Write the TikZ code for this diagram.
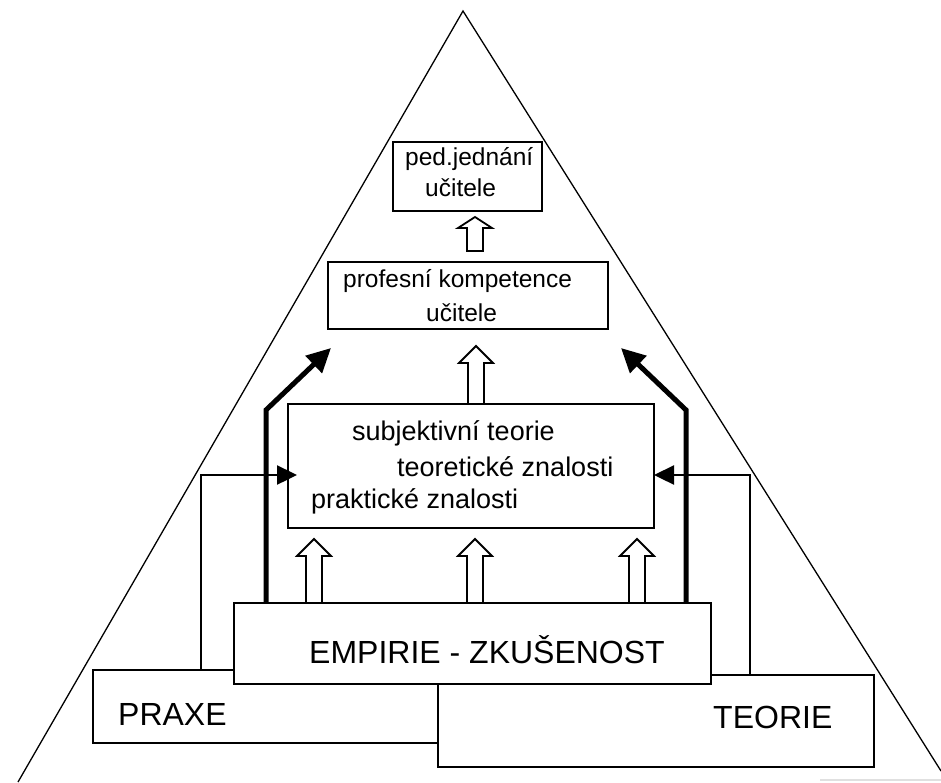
\documentclass[tikz,border=0pt]{standalone}
\usepackage{fontspec}
\setmainfont{Liberation Sans}
\usetikzlibrary{arrows.meta,calc}
\newcommand\hollowup[4]{%
  \draw[hollowst] (#1-8,#2) -- (#1-8,#3+#4) -- (#1-17,#3+#4) -- (#1,#3) -- (#1+17,#3+#4) -- (#1+8,#3+#4) -- (#1+8,#2) -- cycle;}
\begin{document}
\begin{tikzpicture}[x=1pt,y=-1pt,
  box/.style={draw, line width=1.8pt, fill=white, inner sep=0pt, outer sep=0pt, anchor=north west},
  smalltxt/.style={anchor=base west, inner sep=0pt, font=\fontsize{24.5}{28}\selectfont},
  midtxt/.style={anchor=base west, inner sep=0pt, font=\fontsize{27}{30}\selectfont},
  bigtxt/.style={anchor=base west, inner sep=0pt, font=\fontsize{32}{36}\selectfont},
  hollowst/.style={draw, line width=1.8pt, fill=white, line join=miter},
  boldarr/.style={line width=5pt, -{Triangle[length=24pt,width=23pt]}},
  thinarr/.style={line width=2.4pt, -{Triangle[length=20pt,width=19pt]}},
  pyr/.style={line width=1.3pt}]
\useasboundingbox (0,0) rectangle (941,782);
% pyramid
\coordinate (apex) at (463,11);
\coordinate (pl) at (18,782);
\coordinate (pr) at (941,771);
\draw[pyr] (pl) -- (apex) -- (pr);
\draw[black!12, line width=1.2pt] (820,780) -- (941,780);
% boxes
\node[box, minimum width=149pt, minimum height=69pt] (ped) at (393,142) {};
\node[box, minimum width=280pt, minimum height=67pt] (prof) at (328,262) {};
\node[box, minimum width=366pt, minimum height=124pt] (main) at (288,404) {};
\node[box, minimum width=345pt, minimum height=73pt] (praxe) at (93,670) {};
\node[box, minimum width=436pt, minimum height=92pt] (teorie) at (438,675) {};
\node[box, minimum width=477pt, minimum height=81pt] (emp) at (234,603) {};
% texts
\node[smalltxt] (t1) at (405,165) {ped.jednání};
\node[smalltxt] (t2) at (425,196) {učitele};
\node[smalltxt] (t3) at (343,287) {profesní kompetence};
\node[smalltxt] (t4) at (426,321) {učitele};
\node[midtxt] (t5) at (352,440) {subjektivní teorie};
\node[midtxt] (t6) at (397,476) {teoretické znalosti};
\node[midtxt] (t7) at (311,508) {praktické znalosti};
\node[bigtxt] (t8) at (309,663) {EMPIRIE - ZKUŠENOST};
\node[bigtxt] (t9) at (118,725) {PRAXE};
\node[bigtxt] (t10) at (713,728) {TEORIE};
% hollow arrows
\hollowup{475}{251}{217}{11}
\hollowup{476}{404}{346}{17}
\hollowup{314}{603}{539}{17}
\hollowup{475}{603}{539}{17}
\hollowup{637}{603}{539}{17}
% bold arrows
\coordinate (lb) at (266,410);
\coordinate (lt) at (331,348);
\coordinate (rb) at (686,410);
\coordinate (rt) at (621,348);
\draw[boldarr] (emp.north -| lb) -- (lb) -- (lt);
\draw[boldarr] (emp.north -| rb) -- (rb) -- (rt);
% thin arrows
\coordinate (lk) at (201,475);
\coordinate (rk) at (750,475);
\coordinate (lend) at (297,475);
\draw[thinarr] (praxe.north -| lk) -- (lk) -- (lend);
\draw[thinarr] (teorie.north -| rk) -- (rk) -- (main.east |- rk);
\end{tikzpicture}
\end{document}
